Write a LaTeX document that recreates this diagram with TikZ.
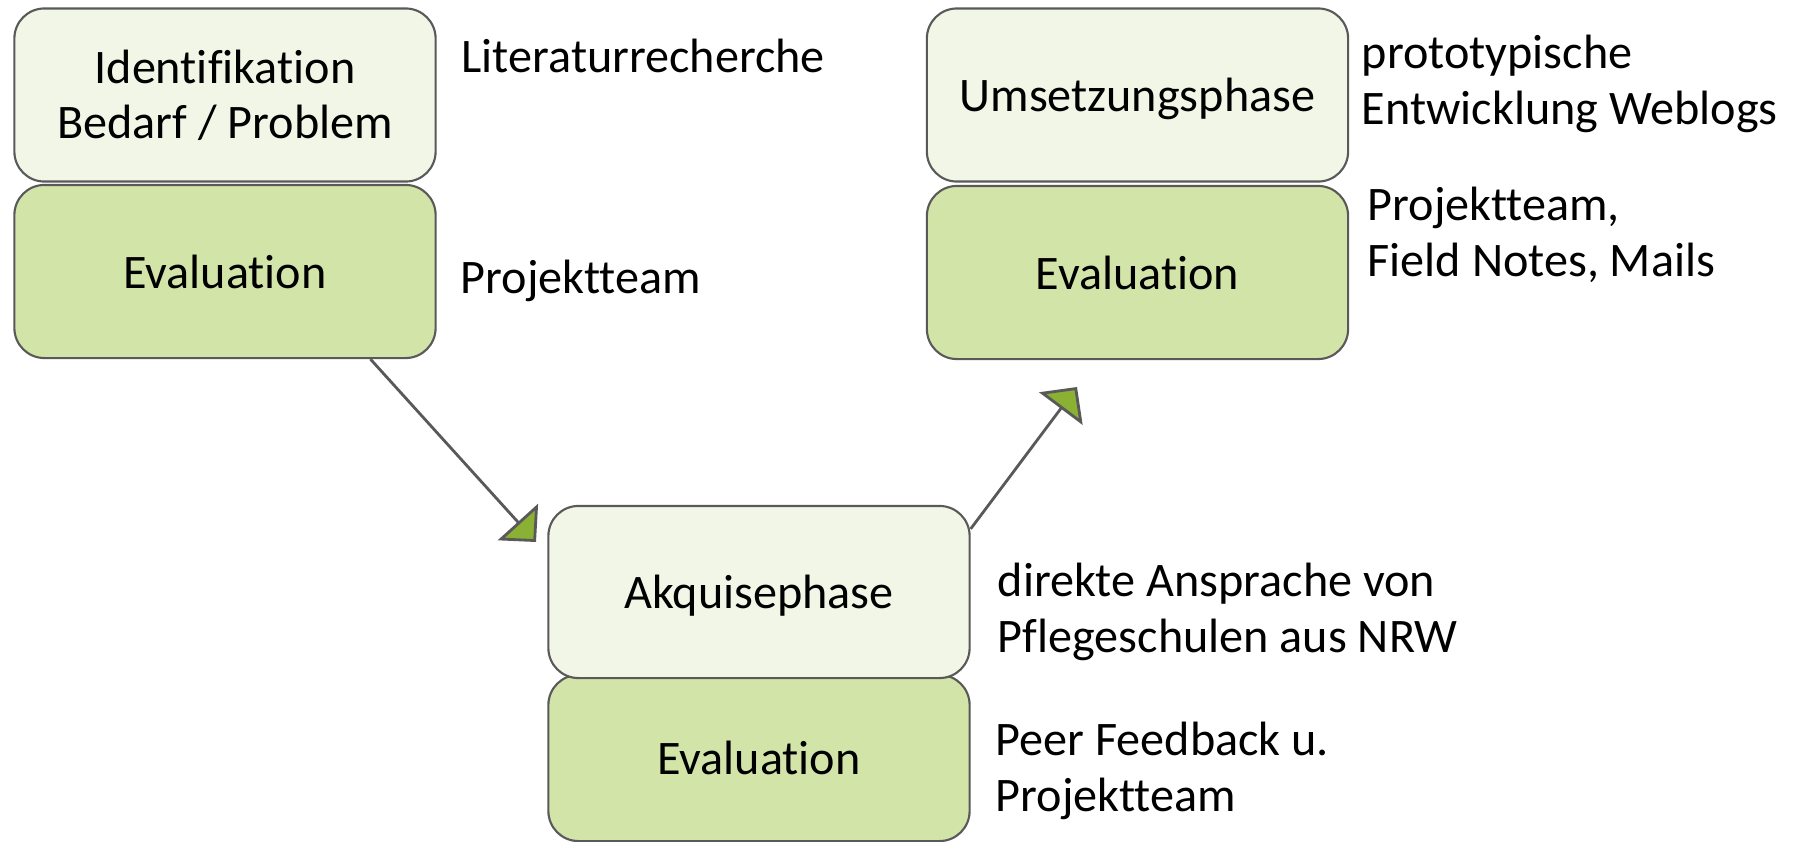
\documentclass[tikz,border=0pt]{standalone}
\usepackage{fontspec}
\setmainfont{Carlito}[Ligatures=NoCommon]
\usetikzlibrary{calc, positioning}
\usetikzlibrary{arrows.meta}

\definecolor{phaselight}{HTML}{F2F6E7}
\definecolor{evalgreen}{HTML}{D3E4A9}
\definecolor{tipgreen}{HTML}{8AB034}
\definecolor{rimgrey}{HTML}{595959}

\begin{document}
\begin{tikzpicture}[x=0.01cm, y=-0.01cm,
  phase/.style={draw=rimgrey, line width=0.6pt, rounded corners=0.3cm, fill=phaselight,
    minimum width=4.21cm, minimum height=1.73cm, align=center, inner sep=0pt,
    font=\fontsize{13.7}{15.6}\selectfont},
  evalbox/.style={phase, fill=evalgreen},
  note/.style={anchor=base west, align=left, inner sep=0pt,
    font=\fontsize{13.7}{15.8}\selectfont},
  flow/.style={draw=rimgrey, line width=0.8pt,
    -{Triangle[length=0.27cm, width=0.54cm, fill=tipgreen]}}]
\useasboundingbox (0,0) rectangle (1799,842);

% phase boxes
\node[evalbox] (eval1) at (225,271.5) {Evaluation};
\node[phase] (ident) at (225,95) {Identifikation\\Bedarf / Problem};
\node[evalbox] (eval2) at (1137.5,272.5) {Evaluation};
\node[phase, text depth=0pt] (umsetz) at (1137.5,95) {Umsetzungsphase};
\node[evalbox, minimum height=1.66cm] (eval3) at (759,758) {Evaluation};
\node[phase, minimum height=1.72cm, text depth=0pt] (akq) at (759,592) {Akquisephase};

% notes (base = last line)
\node[note] (lit) at (461,72) {Literaturrecherche};
\node[note] (team1) at (460,293) {Projektteam};
\node[note] (proto) at (1361,124) {prototypische\\Entwicklung Weblogs};
\node[note] (team2) at (1367,276) {Projektteam,\\Field Notes, Mails};
\node[note] (direct) at (997,652) {direkte Ansprache von\\Pflegeschulen aus NRW};
\node[note] (peer) at (995,811) {Peer Feedback u.\\Projektteam};

% arrows
\coordinate (down1) at ($(eval1.south)!0.687!(eval1.south east)$);
\coordinate (akqin) at (536,542);
\coordinate (up1) at ($(akq.north east)+(0,24)$);
\coordinate (umsin) at (1077,387);
\draw[flow] (down1) -- (akqin);
\draw[flow] (up1) -- (umsin);
\end{tikzpicture}
\end{document}
